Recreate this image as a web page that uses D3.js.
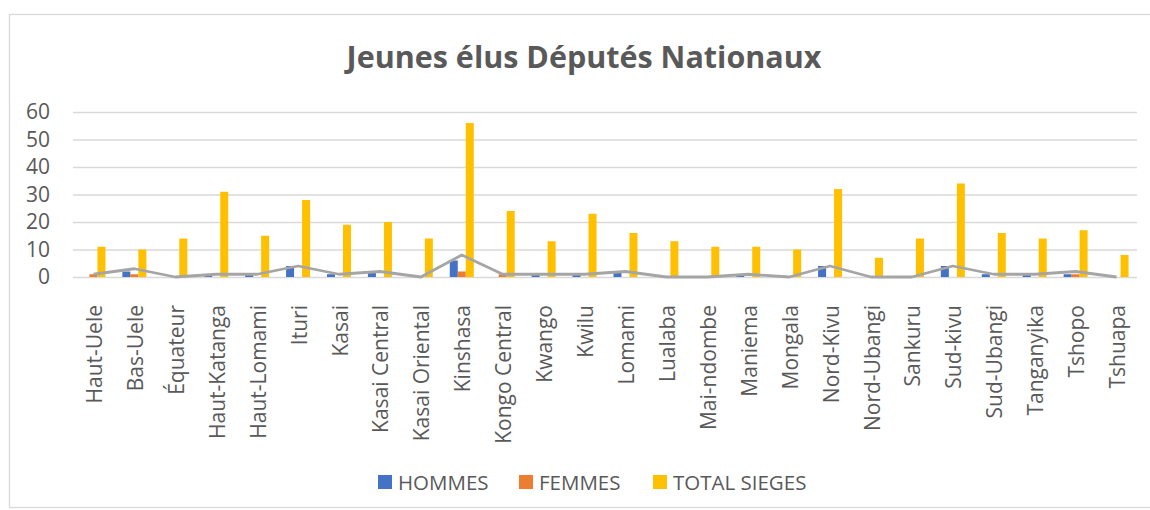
<!DOCTYPE html>
<html lang="fr">
<head>
  <meta charset="UTF-8" />
  <title>Jeunes élus Députés Nationaux</title>
  <script src="https://d3js.org/d3.v7.min.js"></script>
  <style>
    body { margin:0; padding:0; background:#fff; }
    svg { display:block; font-family:"Open Sans", sans-serif; }
    .grid line { stroke:#d9d9d9; stroke-width:1.3px; }
    .tick text { fill:#595959; }
  </style>
</head>
<body>
  <svg width="1150" height="510"></svg>
  <script>
  (function(){
    // data
    const provinces = ["Haut-Uele","Bas-Uele","Équateur","Haut-Katanga","Haut-Lomami","Ituri","Kasai",
      "Kasai Central","Kasai Oriental","Kinshasa","Kongo Central","Kwango","Kwilu","Lomami","Lualaba",
      "Mai-ndombe","Maniema","Mongala","Nord-Kivu","Nord-Ubangi","Sankuru","Sud-kivu","Sud-Ubangi",
      "Tanganyika","Tshopo","Tshuapa"];
    const hommes = [0,2,0,1,1,4,1,2,0,6,0,1,1,2,0,0,1,0,4,0,0,4,1,1,1,0];
    const femmes = [1,1,0,0,0,0,0,0,0,2,1,0,0,0,0,0,0,0,0,0,0,0,0,0,1,0];
    const totalSieges = [11,10,14,31,15,28,19,20,14,56,24,13,23,16,13,11,11,10,32,7,14,34,16,14,17,8];
    const jeunes = [1,3,0,1,1,4,1,2,0,8,1,1,1,2,0,0,1,0,4,0,0,4,1,1,2,0];
    const seriesNames = ["HOMMES","FEMMES","TOTAL SIEGES"];
    const seriesColors = ["#4472c4","#ed7d31","#ffc000"];
    const yTicks = [0,10,20,30,40,50,60];

    const svg = d3.select("svg");
    const L = 73, R = 1137, T = 112, B = 277;

    // chart frame
    svg.append("rect")
      .attr("x", 9.5).attr("y", 14.5).attr("width", 1160).attr("height", 493)
      .attr("fill", "none").attr("stroke", "#d9d9d9").attr("stroke-width", 1.3);

    // title
    svg.append("text")
      .attr("x", 584).attr("y", 68)
      .attr("text-anchor", "middle")
      .attr("font-size", 30.5).attr("font-weight", 700)
      .attr("fill", "#595959")
      .text("Jeunes élus Députés Nationaux");

    const x = d3.scaleBand().domain(provinces).range([L, R]).padding(0);
    const xs = d3.scaleBand().domain(seriesNames).range([-12, 12]).padding(0);
    const y = d3.scaleLinear().domain([0, 60]).range([B, T]);

    // gridlines + y labels
    const yAxis = svg.append("g").attr("class", "grid")
      .attr("transform", `translate(${L},0)`)
      .call(d3.axisLeft(y).tickValues(yTicks).tickSize(-(R - L)).tickPadding(23));
    yAxis.select(".domain").remove();
    yAxis.selectAll(".tick text").attr("font-size", 21).attr("font-family", "Open Sans");

    // bars
    const rows = provinces.map((p, i) => ({ p, vals: [hommes[i], femmes[i], totalSieges[i]] }));
    const grp = svg.append("g").selectAll("g").data(rows).enter().append("g")
      .attr("transform", d => `translate(${x(d.p) + x.bandwidth() / 2},0)`);
    grp.selectAll("rect")
      .data(d => d.vals.map((v, k) => ({ k, v })))
      .enter().append("rect")
      .attr("x", d => xs(seriesNames[d.k]))
      .attr("width", xs.bandwidth())
      .attr("y", d => y(d.v))
      .attr("height", d => y(0) - y(d.v))
      .attr("fill", d => seriesColors[d.k]);

    // line
    const line = d3.line()
      .x((d, i) => x(provinces[i]) + x.bandwidth() / 2)
      .y(d => y(d));
    svg.append("path").datum(jeunes)
      .attr("d", line)
      .attr("fill", "none")
      .attr("stroke", "#a5a5a5")
      .attr("stroke-width", 2.8)
      .attr("stroke-linejoin", "round");

    // x labels
    svg.append("g").selectAll("text").data(provinces).enter().append("text")
      .attr("transform", d => `translate(${x(d) + x.bandwidth() / 2 + 8.5},305) rotate(-90)`)
      .attr("text-anchor", "end")
      .attr("font-size", 21)
      .attr("fill", "#595959")
      .text(d => d);

    // legend
    const legX = [378, 519, 653];
    const leg = svg.append("g").selectAll("g").data(seriesNames).enter().append("g")
      .attr("transform", (d, i) => `translate(${legX[i]},475)`);
    leg.append("rect").attr("width", 14).attr("height", 14)
      .attr("fill", (d, i) => seriesColors[i]);
    leg.append("text").attr("x", 20).attr("y", 14.5)
      .attr("font-size", 20.5).attr("fill", "#595959")
      .text(d => d);
  })();
  </script>
</body>
</html>
